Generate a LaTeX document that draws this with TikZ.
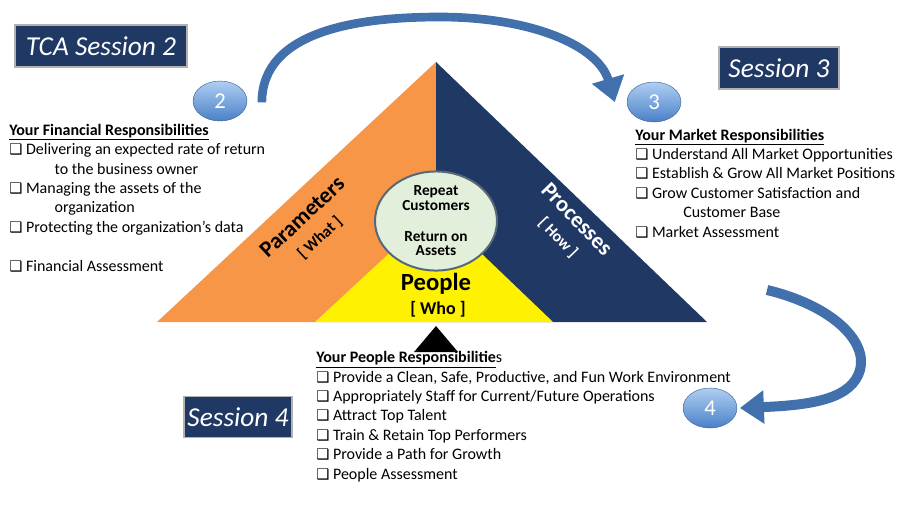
\documentclass[tikz,border=0pt]{standalone}
\usepackage{fontspec}
\setmainfont{Carlito}
\newfontfamily\symfont{DejaVu Sans}
\usetikzlibrary{shapes.geometric,arrows.meta}
\definecolor{navy}{HTML}{1F3864}
\definecolor{orangeside}{HTML}{F79646}
\definecolor{arrowblue}{HTML}{4170AD}
\definecolor{ballhi}{HTML}{AFCFF2}
\definecolor{balllo}{HTML}{4A80C8}
\definecolor{hubfill}{HTML}{E2EFDA}
\definecolor{hubline}{HTML}{56697A}
\newcommand{\chkbox}{{\symfont\fontsize{11}{11}\selectfont ❑}\ }
\tikzset{
  sessbox/.style={fill=navy, draw=gray!60, line width=1.2pt, text=white,
    font=\fontsize{20.5}{24}\selectfont\itshape, inner sep=0pt},
  numball/.style={ellipse, top color=ballhi, bottom color=balllo, draw=balllo!70!black,
    line width=0.3pt, text=white, font=\fontsize{17}{17}\selectfont,
    minimum width=40.5pt, minimum height=30pt, inner sep=0pt},
  listtext/.style={anchor=base west, inner sep=0pt, align=left,
    font=\fontsize{12}{14.55}\selectfont},
  sidelabel/.style={font=\fontsize{17}{17}\selectfont\bfseries, inner sep=0pt},
  tag/.style={font=\fontsize{12}{12}\selectfont\bfseries, inner sep=0pt},
  bigarrow/.style={draw=arrowblue, -{Triangle[width=24pt,length=18pt]}}
}
\begin{document}
\begin{tikzpicture}[x=0.75pt,y=-0.75pt]
\useasboundingbox (0,0) rectangle (912,512);

\coordinate (bl) at (157,322);
\coordinate (br) at (707,322);
\coordinate (apex) at (436,62);
\coordinate (mid) at (436,322);
\coordinate (yl) at (315,322);
\coordinate (yr) at (553,322);
\coordinate (ytop) at (436,210);

\fill[orangeside] (bl)--(apex)--(mid)--cycle;
\fill[navy] (apex)--(br)--(mid)--cycle;
\fill[yellow] (yl)--(ytop)--(yr)--cycle;
\fill (436,326)--(458,352)--(414,352)--cycle;

\node[ellipse, fill=hubfill, draw=hubline, line width=1.5pt, minimum width=91.5pt,
  minimum height=71pt, inner sep=0pt, align=center,
  font=\fontsize{11.5}{11}\selectfont\bfseries] (hub) at (436,221)
  {Repeat\\Customers\\[12pt]Return on\\Assets};

\node[sidelabel, font=\fontsize{18.5}{18}\selectfont\bfseries] (people) at (436,284) {People};
\node[tag, font=\fontsize{13.5}{13}\selectfont\bfseries] (who) at (438,309) {[ Who ]};
\node[sidelabel, rotate=43] (param) at (302,217) {Parameters};
\node[tag, rotate=43] (what) at (320,238) {[ What ]};
\node[sidelabel, rotate=-46, text=white] (proc) at (577,219) {Processes};
\node[tag, rotate=-46, text=white] (how) at (558,238) {[ How ]};

\node[sessbox, minimum width=129pt, minimum height=31.5pt] (s2) at (101,46) {TCA Session 2};
\node[sessbox, minimum width=90pt, minimum height=31.5pt] (s3) at (779,68) {Session 3};
\node[sessbox, minimum width=81pt, minimum height=31pt] (s4) at (238,417) {Session 4};

\node[numball] (b2) at (220,101) {2};
\node[numball] (b3) at (654,102) {3};
\node[numball] (b4) at (710,408) {4};

\coordinate (loopstart) at (767,290);
\draw[bigarrow, line width=6.5pt] ([xshift=11pt,yshift=-1pt]b2.east)
  .. controls (262,30) and (360,17) .. (440,17)
  .. controls (530,17) and (598,45) .. ([xshift=-9pt]b3.west);
\draw[bigarrow, line width=7.5pt] (loopstart)
  .. controls (830,305) and (868,340) .. (860,370)
  .. controls (852,398) and (815,405) .. ([xshift=2pt]b4.east);

\node[listtext] (fin) at (9,271) {\underline{\textbf{Your Financial Responsibilities}}\\
\chkbox Delivering an expected rate of return\\
\hspace*{34pt}to the business owner\\
\chkbox Managing the assets of the\\
\hspace*{34pt}organization\\
\chkbox Protecting the organization’s data\\[14.55pt]
\chkbox Financial Assessment};

\node[listtext] (mkt) at (635,237) {\underline{\textbf{Your Market Responsibilities}}\\
\chkbox Understand All Market Opportunities\\
\chkbox Establish \& Grow All Market Positions\\
\chkbox Grow Customer Satisfaction and\\
\hspace*{36pt}Customer Base\\
\chkbox Market Assessment};

\node[listtext] (ppl) at (316,479) {\underline{\textbf{Your People Responsibilitie}}s\\
\chkbox Provide a Clean, Safe, Productive, and Fun Work Environment\\
\chkbox Appropriately Staff for Current/Future Operations\\
\chkbox Attract Top Talent\\
\chkbox Train \& Retain Top Performers\\
\chkbox Provide a Path for Growth\\
\chkbox People Assessment};
\end{tikzpicture}
\end{document}
